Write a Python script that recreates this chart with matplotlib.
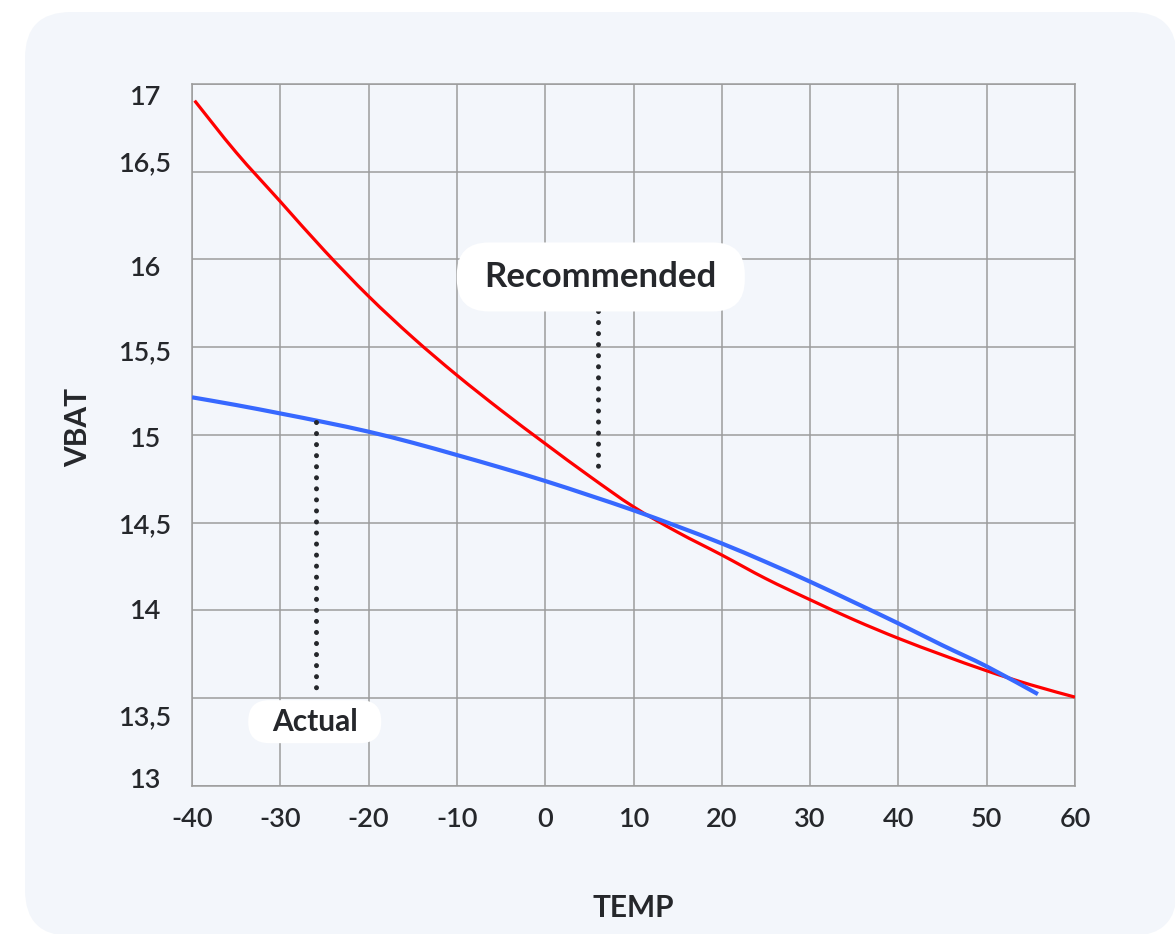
import matplotlib
matplotlib.use('Agg')
import matplotlib.pyplot as plt
import numpy as np
from matplotlib.patches import FancyBboxPatch, PathPatch
from matplotlib.path import Path
from matplotlib.transforms import IdentityTransform

# ---------------- data ----------------
temp_recommended = [-39.7, -35, -30, -25, -20, -15, -10, -5, 0, 5, 10, 15, 20, 25,
                    30, 35, 40, 45, 50, 55, 60]
vbat_recommended = [16.905, 16.61, 16.33, 16.05, 15.79, 15.555, 15.34, 15.14, 14.95,
                    14.765, 14.59, 14.445, 14.315, 14.18, 14.06, 13.945, 13.84,
                    13.745, 13.655, 13.575, 13.505]

temp_actual = [-40, -35, -30, -25, -20, -15, -10, -5, 0, 5, 10, 15, 20, 25, 30, 35,
               40, 45, 50, 55.8]
vbat_actual = [15.214, 15.17, 15.122, 15.072, 15.018, 14.955, 14.885, 14.813, 14.737,
               14.655, 14.57, 14.478, 14.381, 14.275, 14.163, 14.045, 13.925, 13.80,
               13.68, 13.522]

x_ticks = [-40, -30, -20, -10, 0, 10, 20, 30, 40, 50, 60]
x_tick_labels = ['-40', '-30', '-20', '-10', '0', '10', '20', '30', '40', '50', '60']
y_ticks = [13, 13.5, 14, 14.5, 15, 15.5, 16, 16.5, 17]
y_tick_labels = ['13', '13,5', '14', '14,5', '15', '15,5', '16', '16,5', '17']
# small vertical nudges of the y tick labels (points, positive = downward)
y_label_nudge = [-3.5, 14, 0.7, 2, 3.5, 4.3, 6.5, -5.8, 9.4]

actual_label = 'Actual'
actual_label_pos = (-26.1, 13.365)
actual_marker_x = [-26, -26]
actual_marker_y = [15.075, 13.5]

recommended_label = 'Recommended'
recommended_label_pos = (6.3, 15.90)
recommended_marker_x = [6, 6]
recommended_marker_y = [15.705, 14.77]

# ---------------- style ----------------
W, H, DPI = 1175, 934, 100
BG = '#F3F6FB'
TXT = '#25272B'
GRID = '#9C9C9C'
RED = '#FF0000'
BLUE = '#3768FF'
FONT = ['Lato', 'DejaVu Sans']

plt.rcParams['font.family'] = FONT


def smooth_path(xs, ys):
    """Catmull-Rom curve through the given points, as cubic Bezier segments."""
    p = np.column_stack([xs, ys]).astype(float)
    verts = [p[0]]
    codes = [Path.MOVETO]
    n = len(p)
    for i in range(n - 1):
        p0 = p[i - 1] if i > 0 else p[i]
        p1, p2 = p[i], p[i + 1]
        p3 = p[i + 2] if i + 2 < n else p[i + 1]
        c1 = p1 + (p2 - p0) / 6.0
        c2 = p2 - (p3 - p1) / 6.0
        verts += [c1, c2, p2]
        codes += [Path.CURVE4] * 3
    return Path(verts, codes)


fig = plt.figure(figsize=(W / DPI, H / DPI), dpi=DPI, facecolor='white')

# rounded light panel (behind everything)
panel = FancyBboxPatch((25, -2), 1152, 924, boxstyle='round,pad=0,rounding_size=46',
                       transform=IdentityTransform(), facecolor=BG, edgecolor='none',
                       zorder=-10)
fig.patches.append(panel)

ax = fig.add_axes([192 / W, 1 - 785.7 / H, (1075 - 192) / W, (785.7 - 84) / H])
ax.set_zorder(1)
ax.set_facecolor(BG)

ax.add_patch(PathPatch(smooth_path(temp_recommended, vbat_recommended), fill=False,
                       edgecolor=RED, lw=2.3, zorder=3, capstyle='butt'))
ax.add_patch(PathPatch(smooth_path(temp_actual, vbat_actual), fill=False,
                       edgecolor=BLUE, lw=3.0, zorder=4, capstyle='butt'))

dot_style = dict(color=TXT, lw=3.6, linestyle=(0, (0.01, 2.2)),
                 dash_capstyle='round', zorder=5)
ax.plot(actual_marker_x, actual_marker_y, **dot_style)
ax.plot(recommended_marker_x, recommended_marker_y, **dot_style)

ax.set_xlim(-40, 60)
ax.set_ylim(13, 17)
ax.set_xticks(x_ticks)
ax.set_xticklabels(x_tick_labels)
ax.set_yticks(y_ticks)
ax.set_yticklabels([])
ax.grid(True, color=GRID, lw=1.1, zorder=1)
ax.set_axisbelow(True)
for s in ax.spines.values():
    s.set_color(GRID)
    s.set_linewidth(1.1)
ax.tick_params(axis='both', length=0, colors=TXT, labelsize=19.5)
ax.tick_params(axis='x', pad=15)
for lab in ax.get_xticklabels():
    lab.set_fontweight('semibold')

ytr = ax.get_yaxis_transform()
for v, lab, nud in zip(y_ticks, y_tick_labels, y_label_nudge):
    ax.annotate(lab, xy=(-0.054, v), xycoords=ytr, xytext=(0, -nud),
                textcoords='offset points', ha='center', va='center',
                fontsize=19.5, fontweight='semibold', color=TXT,
                annotation_clip=False)

ax.set_xlabel('TEMP', fontsize=21.5, fontweight='bold', color=TXT)
ax.set_ylabel('VBAT', fontsize=21.5, fontweight='bold', color=TXT)
ax.xaxis.set_label_coords(0.4994, -0.1743)
ax.xaxis.label.set_va('center')
ax.yaxis.set_label_coords(-0.129, 0.5098)
ax.yaxis.label.set_va('center')

t_rec = ax.text(*recommended_label_pos, recommended_label, fontsize=25,
                fontweight='bold', color=TXT, ha='center', va='center', zorder=8)
t_act = ax.text(*actual_label_pos, actual_label, fontsize=21.5,
                fontweight='bold', color=TXT, ha='center', va='center', zorder=8)

fig.canvas.draw()
renderer = fig.canvas.get_renderer()
for t, (bw, bh, r) in ((t_rec, (288, 69, 32)), (t_act, (133, 43, 21))):
    bb = t.get_window_extent(renderer)
    cx = (bb.x0 + bb.x1) / 2
    cy = (bb.y0 + bb.y1) / 2
    box = FancyBboxPatch((cx - bw / 2, cy - bh / 2), bw, bh,
                         boxstyle='round,pad=0,rounding_size=%d' % r,
                         transform=IdentityTransform(), facecolor='white',
                         edgecolor='none', zorder=7, clip_on=False)
    ax.add_artist(box)

fig.savefig('out.png', dpi=DPI, facecolor='white')
